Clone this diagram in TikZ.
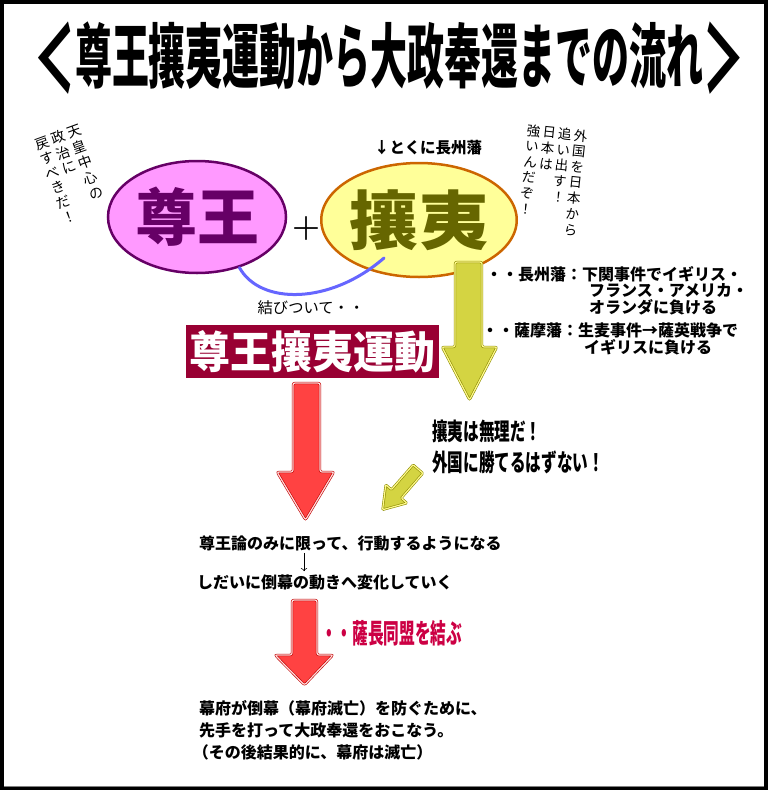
\documentclass[tikz,border=0pt]{standalone}
\usepackage{fontspec}
\usepackage{graphicx}
\usetikzlibrary{shapes.geometric,arrows.meta}
\newfontfamily\jp{Noto Sans CJK JP}
\newcommand\tatecol[1]{\begin{tabular}[t]{@{}c@{}}#1\end{tabular}}
\newcommand\titlebracket[1]{\raisebox{-0.15em}{\scalebox{1.1}[1.32]{#1}}}
\definecolor{sonnopink}{HTML}{FF99FF}
\definecolor{sonnoline}{HTML}{660066}
\definecolor{joiyellow}{HTML}{FFFF99}
\definecolor{joiline}{HTML}{CC6600}
\definecolor{joitext}{HTML}{666600}
\definecolor{tieblue}{HTML}{6666FF}
\definecolor{undored}{HTML}{990033}
\definecolor{arrowyellow}{HTML}{D4D442}
\definecolor{arrowyellowline}{HTML}{8C8C00}
\definecolor{arrowred}{HTML}{FF4242}
\definecolor{arrowredline}{HTML}{C00000}
\definecolor{satchored}{HTML}{CC0044}

\begin{document}
\begin{tikzpicture}[x=1pt, y=-1pt,
  tatebox/.style={inner sep=0pt, font=\jp\fontsize{14}{15.8}\selectfont},
  note/.style={inner sep=0pt, anchor=west, font=\jp\bfseries\fontsize{16}{16}\selectfont},
  flow/.style={inner sep=0pt, anchor=west, font=\jp\bfseries\fontsize{16}{22}\selectfont},
  yellowarrow/.style={fill=arrowyellow, draw=arrowyellowline, line width=0.6pt, double=yellow!45, double distance=1.2pt, rounded corners=2pt},
  redarrow/.style={fill=arrowred, draw=arrowredline, line width=0.6pt, double=red!15, double distance=1.2pt, rounded corners=2pt}]
\fill[black] (0, 0) rectangle (768, 790);
\fill[white] (4, 4) rectangle (764, 787);
\draw[gray, line width=1pt] (4, 786.5) -- (764, 786.5);

% title
\node(title) at (389.5, 58) [inner sep=0pt, font=\jp\bfseries\fontsize{37}{37}\selectfont] {\scalebox{1}[1.9]{\titlebracket{＜}尊王攘夷運動から大政奉還までの流れ\titlebracket{＞}}};

% the two ideas
\node(sonno) at (197, 217) [ellipse, draw=sonnoline, fill=sonnopink, line width=2.5pt, minimum width=178pt, minimum height=112pt, inner sep=0pt, text=sonnoline, font=\jp\bfseries\fontsize{62}{62}\selectfont] {尊王};
\node(joi) at (419, 220) [ellipse, draw=joiline, fill=joiyellow, line width=2.5pt, minimum width=176pt, minimum height=114pt, inner sep=0pt, text=joitext, font=\jp\bfseries\fontsize{64}{64}\selectfont] {\scalebox{1.08}[1]{攘夷}};
\node(plus) at (306, 229) [font=\bfseries\fontsize{32}{32}\selectfont] {+};
\node(tokuni) at (374, 148) [note, font=\jp\bfseries\fontsize{15.5}{15.5}\selectfont] {↓とくに長州藩};

% speech in vertical writing
\node(sonnotate) at (72, 176) [tatebox, rotate=20] {\tatecol{戻\\す\\べ\\き\\だ\\！}\hspace{3pt}\tatecol{政\\治\\に}\hspace{3pt}\tatecol{天\\皇\\中\\心\\の}};
\node(joitate) at (552, 182) [tatebox, rotate=-6, font=\jp\fontsize{13.5}{15.7}\selectfont] {\tatecol{強\\い\\ん\\だ\\ぞ\\！}\hspace{2.2pt}\tatecol{日\\本\\は}\hspace{2.2pt}\tatecol{追\\い\\出\\す\\！}\hspace{2.2pt}\tatecol{外\\国\\を\\日\\本\\か\\ら}};

\coordinate(tieend) at (384, 258);
\draw[tieblue, line width=3pt, line cap=round] (sonno.-50) .. controls (260, 305) and (330, 305) .. (tieend);
\node(tie) at (311, 308) [font=\jp\fontsize{15.3}{15.3}\selectfont] {結びついて・・};

\node(undo) at (312.5, 351.5) [fill=undored, text=white, minimum width=253pt, minimum height=53pt, inner sep=0pt, font=\jp\bfseries\fontsize{44}{44}\selectfont] {\scalebox{0.93}[1]{尊王攘夷運動}};

% defeats
\node(chosyua) at (486, 274) [note] {・・長州藩：下関事件でイギリス・};
\node(chosyub) at (589, 291) [note] {フランス・アメリカ・};
\node(chosyuc) at (589, 307) [note] {オランダに負ける};
\node(satsumaa) at (482, 330) [note] {・・薩摩藩：生麦事件→薩英戦争で};
\node(satsumab) at (584, 347) [note] {イギリスに負ける};

\draw[yellowarrow] (455, 262) -- (482, 262) -- (482, 347) -- (497, 347) -- (469.5, 400) -- (442, 347) -- (455, 347) -- cycle;

\node(muri) at (432, 431) [note, font=\jp\bfseries\fontsize{24}{24}\selectfont] {\scalebox{0.65}[1]{攘夷は無理だ！}};
\node(katenai) at (432, 462) [note, font=\jp\bfseries\fontsize{24}{24}\selectfont] {\scalebox{0.65}[1]{外国に勝てるはずない！}};

\begin{scope}[shift={(418, 469)}, rotate=-41]
\draw[yellowarrow, rounded corners=1pt] (-6.5, 0) -- (6.5, 0) -- (6.5, 33) -- (14, 33) -- (0, 54) -- (-14, 33) -- (-6.5, 33) -- cycle;
\end{scope}

\draw[redarrow] (293, 383) -- (320, 383) -- (320, 472) -- (334, 472) -- (305.5, 520) -- (277, 472) -- (293, 472) -- cycle;

% toward the end of the bakufu
\node(rona) at (199, 543) [flow] {尊王論のみに限って、行動するようになる};
\node(ronb) at (197, 582) [flow] {しだいに倒幕の動きへ変化していく};
\coordinate(ronx) at (304, 0);
\draw[-{To[length=3pt]}, semithick, shorten <=2pt, shorten >=3pt] (ronx |- rona.south) -- (ronx |- ronb.north);

\draw[redarrow] (292, 600) -- (317, 600) -- (317, 655) -- (333, 655) -- (304.5, 685) -- (275, 655) -- (292, 655) -- cycle;
\node(satcho) at (321, 633) [note, text=satchored, font=\jp\bfseries\fontsize{27}{27}\selectfont] {\scalebox{0.58}[1]{・・薩長同盟を結ぶ}};

\node(taisei) at (199, 730) [flow, align=left] {幕府が倒幕（幕府滅亡）を防ぐために、\\先手を打って大政奉還をおこなう。\\\kern-0.4em（その後結果的に、幕府は滅亡）};
\end{tikzpicture}
\end{document}
